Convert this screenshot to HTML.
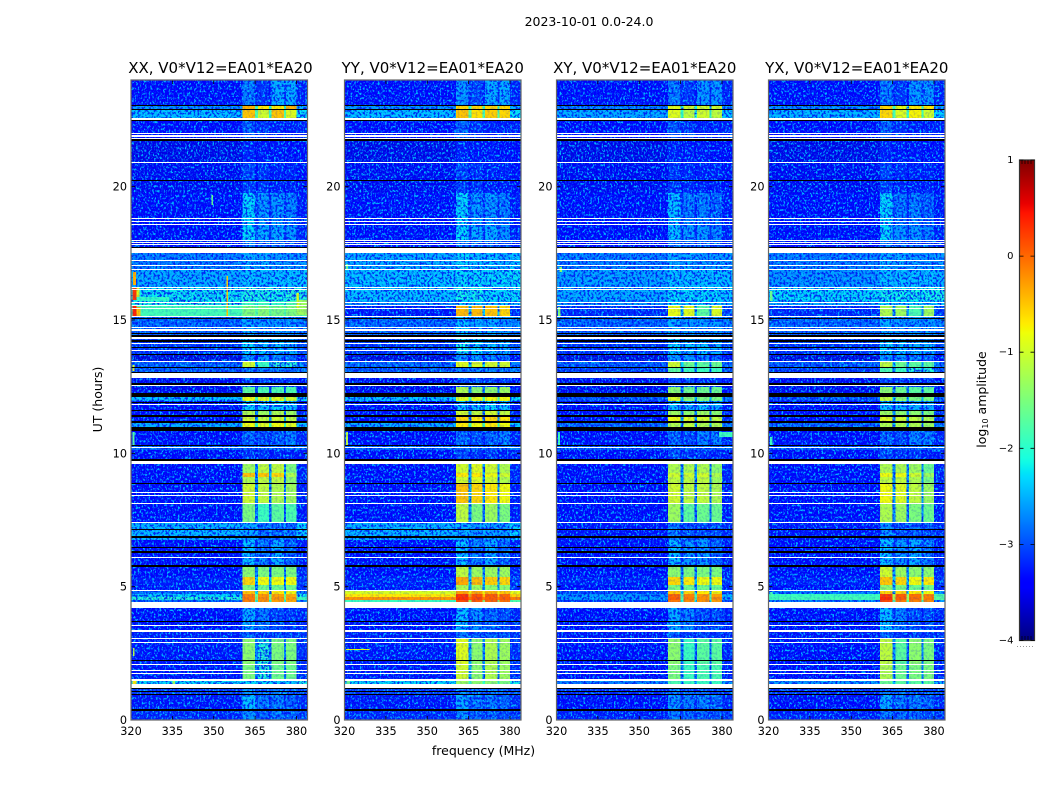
<!DOCTYPE html>
<html lang="en">
<head>
<meta charset="utf-8">
<title>2023-10-01 0.0-24.0</title>
<style>
html,body{margin:0;padding:0;background:#fff;width:1050px;height:800px;overflow:hidden}
svg{display:block}
text{font-family:"DejaVu Sans","Liberation Sans",sans-serif;fill:#000}
</style>
</head>
<body>
<svg id="fig" xmlns="http://www.w3.org/2000/svg" width="1050" height="800" viewBox="0 0 1050 800">
  <defs>
    <filter id="speckA" x="0" y="0" width="100%" height="100%" color-interpolation-filters="sRGB">
      <feTurbulence type="fractalNoise" baseFrequency="0.55 0.42" numOctaves="2" seed="3"/>
      <feColorMatrix type="matrix" values="0 0 0 0 0  0 0 0 0 0.72  0 0 0 0 1  5.5 0 0 0 -2.7"/>
    </filter>
    <filter id="speckB" x="0" y="0" width="100%" height="100%" color-interpolation-filters="sRGB">
      <feTurbulence type="fractalNoise" baseFrequency="0.55 0.42" numOctaves="2" seed="11"/>
      <feColorMatrix type="matrix" values="0 0 0 0 0  0 0 0 0 0.72  0 0 0 0 1  5.5 0 0 0 -2.7"/>
    </filter>
    <filter id="speckDark" x="0" y="0" width="100%" height="100%" color-interpolation-filters="sRGB">
      <feTurbulence type="fractalNoise" baseFrequency="0.5 0.4" numOctaves="2" seed="23"/>
      <feColorMatrix type="matrix" values="0 0 0 0 0  0 0 0 0 0.05  0 0 0 0 0.95  6 0 0 0 -2.9"/>
    </filter>
    <linearGradient id="jetGrad" x1="0" y1="1" x2="0" y2="0"></linearGradient>
  </defs>
  <text x="589" y="26" font-size="12.5" text-anchor="middle">2023-10-01 0.0-24.0</text>
  <text x="483.5" y="755" font-size="12.5" text-anchor="middle">frequency (MHz)</text>
  <text x="0" y="0" font-size="12.5" text-anchor="middle" transform="translate(102 399.5) rotate(-90)">UT (hours)</text>
  <text x="0" y="0" font-size="12.5" text-anchor="middle" transform="translate(986 399.5) rotate(-90)">log<tspan font-size="8" dy="2">10</tspan><tspan dy="-2"> amplitude</tspan></text>
  <g id="panels"></g>
  <g id="cbar"></g>
</svg>
<script>
// Axis ticks
const freqTicks = [320, 335, 350, 365, 380];
const hourTicks = [0, 5, 10, 15, 20];
const colorbarTicks = [-4, -3, -2, -1, 0, 1];
const panelTitles = ['XX, V0*V12=EA01*EA20', 'YY, V0*V12=EA01*EA20', 'XY, V0*V12=EA01*EA20', 'YX, V0*V12=EA01*EA20'];

// Frequency bands (MHz): background, sub-band 1, gap, 2, gap, 3, gap, 4, tail
const freqEdges = [320, 360.5, 365, 366, 370, 371, 375.5, 376.2, 380, 384];

// UT band edges (hours)
const hourEdges = [0, .34, .95, 1.35, 1.47, 2.1, 3.07, 3.3, 4.43, 4.5, 4.61, 4.72, 4.84, 5.06, 5.36, 5.74, 6.75, 7.43, 8.1, 8.85, 9.11, 9.26, 9.6, 10.14, 10.29, 10.85, 11.14, 11.37, 11.6, 11.96, 12.12, 12.5, 12.83, 13.2, 13.43, 13.69, 14.44, 15.1, 15.53, 15.71, 16.24, 16.91, 17.5, 18, 18.6, 19.76, 20.89, 21.75, 22.5, 22.86, 23.03, 24];

// log10 amplitude per UT band: [background, sub1, sub2, sub3, sub4]
const levelsXX = [
[-2.95,-2.5,-2.7,-2.6,-2.7],[-3.05,-2.3,-2.6,-2.6,-2.7],[-2.85,-2.5,-2.6,-2.6,-2.7],[-2.2,-2.2,-2.2,-2.2,-2.25],
[-3.05,-1.5,-2.0,-1.6,-1.6],[-3.05,-1.4,-2.0,-1.5,-1.5],[-3.0,-2.7,-2.9,-2.8,-2.9],[-3.1,-2.4,-2.6,-2.8,-2.9],
[-2.7,-.15,-.25,-.3,-.35],[-2.0,-.1,-.2,-.25,-.3],[-2.2,-.15,-.25,-.3,-.4],[-2.7,-.5,-.6,-.7,-.8],
[-3.05,-1.5,-1.6,-1.6,-1.6],[-3.0,-.6,-.8,-.8,-.8],[-3.1,-1.4,-1.5,-1.5,-1.5],[-3.15,-2.3,-2.6,-2.4,-2.7],
[-2.35,-2.45,-2.7,-2.7,-2.7],[-3.15,-1.5,-1.9,-1.7,-1.8],[-3.15,-1.0,-1.1,-1.2,-1.3],[-3.1,-1.2,-1.1,-1.1,-1.4],
[-3.1,-.5,-.5,-.6,-1.2],[-3.1,-1.3,-1.1,-1.1,-1.5],[-3.15,-2.9,-2.9,-3.0,-3.0],[-2.7,-2.7,-2.7,-2.7,-2.7],
[-3.1,-2.7,-2.8,-2.7,-2.6],[-2.4,-.8,-.9,-.8,-.9],[-3.1,-1.0,-1.1,-1.0,-1.1],[-3.1,-1.2,-1.3,-1.2,-1.3],
[-3.15,-2.2,-2.3,-2.2,-2.3],[-2.3,-.8,-.9,-.9,-1.0],[-3.2,-1.7,-1.8,-1.8,-1.8],[-3.2,-2.8,-2.8,-2.9,-2.9],
[-2.75,-2.6,-2.6,-2.6,-2.7],[-2.7,-1.0,-1.9,-2.0,-2.0],[-3.3,-2.5,-2.5,-2.6,-2.7],[-2.9,-2.2,-2.3,-2.3,-2.4],
[-2.7,-2.4,-2.5,-2.5,-2.5],[-1.85,-1.5,-1.45,-1.55,-1.5],[-2.05,-1.9,-1.9,-1.95,-1.8],[-2.15,-2.05,-2.05,-2.1,-2.0],
[-2.4,-2.3,-2.3,-2.3,-2.3],[-2.6,-2.4,-2.4,-2.5,-2.5],[-3.1,-2.6,-2.7,-2.7,-2.8],[-3.1,-2.2,-2.4,-2.4,-2.5],
[-3.15,-2.2,-2.5,-2.5,-2.6],[-3.2,-2.85,-2.9,-3.0,-3.0],[-3.25,-3.0,-3.05,-3.05,-3.1],[-3.1,-2.7,-2.9,-3.0,-3.0],
[-2.3,-.5,-1.0,-.5,-.9],[-2.5,-.4,-.7,-.7,-.4],[-3.1,-2.6,-2.9,-2.4,-2.4]];

const levelsYY = [
[-2.95,-2.5,-2.7,-2.7,-2.8],[-3.05,-2.4,-2.6,-2.6,-2.7],[-2.85,-2.5,-2.6,-2.6,-2.7],[-2.2,-1.3,-1.4,-1.4,-1.5],
[-3.05,-1.0,-1.4,-1.2,-1.3],[-3.05,-.9,-1.4,-1.2,-1.3],[-3.0,-2.6,-2.8,-2.7,-2.8],[-3.1,-2.3,-2.5,-2.7,-2.8],
[-1.9,.15,.05,0,-.05],[-.25,.3,.15,.05,.05],[-.7,.25,.1,.05,0],[-.95,-.3,-.35,-.4,-.5],
[-3.05,-1.2,-1.3,-1.4,-1.4],[-3.0,-.35,-.45,-.55,-.6],[-3.1,-1.1,-1.3,-1.3,-1.3],[-3.15,-2.3,-2.6,-2.4,-2.7],
[-2.35,-2.4,-2.5,-2.5,-2.5],[-3.15,-1.1,-1.5,-1.3,-1.5],[-3.15,-.5,-.6,-.7,-.8],[-3.1,-1.0,-.9,-1.0,-1.2],
[-3.1,-.7,-.7,-.8,-1.0],[-3.1,-1.0,-.9,-1.0,-1.2],[-3.15,-2.8,-2.9,-2.9,-3.0],[-2.7,-2.7,-2.7,-2.7,-2.7],
[-3.1,-2.7,-2.8,-2.7,-2.6],[-2.4,-.7,-.8,-.7,-.8],[-3.1,-.6,-.7,-.6,-.7],[-3.1,-1.0,-1.1,-1.0,-1.1],
[-3.15,-2.3,-2.3,-2.2,-2.3],[-2.3,-.9,-.85,-.8,-.8],[-3.2,-1.2,-1.4,-1.4,-1.3],[-3.2,-2.8,-2.8,-2.9,-2.9],
[-2.75,-2.6,-2.6,-2.6,-2.7],[-2.7,-.9,-.95,-1.0,-1.0],[-3.3,-2.5,-2.5,-2.6,-2.7],[-2.9,-2.1,-2.2,-2.3,-2.4],
[-2.7,-2.3,-2.4,-2.4,-2.5],[-3.05,-.45,-.45,-.5,-.6],[-2.5,-2.2,-2.3,-2.3,-2.3],[-2.3,-2.1,-2.1,-2.2,-2.2],
[-2.3,-2.2,-2.2,-2.2,-2.2],[-2.4,-2.2,-2.3,-2.3,-2.4],[-3.1,-2.6,-2.7,-2.7,-2.8],[-3.1,-2.2,-2.4,-2.4,-2.5],
[-3.15,-2.2,-2.5,-2.5,-2.6],[-3.2,-2.85,-2.9,-3.0,-3.0],[-3.25,-3.0,-3.05,-3.05,-3.1],[-3.1,-2.7,-2.9,-3.0,-3.0],
[-2.3,-.5,-.65,-.55,-.6],[-2.5,-.6,-.6,-.6,-.6],[-3.1,-2.5,-2.8,-2.4,-2.4]];

const levelsXY = [
[-3.0,-2.6,-2.7,-2.7,-2.8],[-3.1,-2.5,-2.6,-2.6,-2.7],[-2.9,-2.6,-2.7,-2.7,-2.8],[-2.6,-1.8,-1.9,-1.9,-1.9],
[-3.1,-1.5,-1.9,-1.8,-1.8],[-3.1,-1.4,-1.9,-1.7,-1.7],[-3.05,-2.7,-2.9,-2.8,-2.9],[-3.1,-2.4,-2.6,-2.8,-2.8],
[-2.9,-.1,-.2,-.25,-.3],[-2.5,.05,-.1,-.2,-.2],[-2.5,0,-.15,-.25,-.3],[-2.85,-.5,-.6,-.7,-.75],
[-3.1,-1.5,-1.6,-1.6,-1.6],[-3.0,-.6,-.7,-.8,-.8],[-3.1,-1.4,-1.5,-1.5,-1.5],[-3.15,-2.3,-2.5,-2.5,-2.7],
[-3.05,-2.6,-2.8,-2.8,-2.8],[-3.15,-1.3,-1.7,-1.6,-1.6],[-3.15,-1.0,-1.1,-1.1,-1.2],[-3.1,-1.1,-1.1,-1.1,-1.3],
[-3.1,-1.0,-1.0,-1.0,-1.2],[-3.1,-1.2,-1.2,-1.2,-1.4],[-3.15,-2.8,-2.9,-2.9,-3.0],[-2.75,-2.7,-2.7,-2.7,-2.7],
[-3.1,-2.7,-2.8,-2.6,-2.6],[-2.7,-1.2,-1.1,-1.2,-1.2],[-3.1,-.85,-.9,-1.0,-1.1],[-3.1,-1.3,-1.4,-1.3,-1.4],
[-3.15,-2.3,-2.4,-2.3,-2.4],[-2.75,-.95,-1.4,-1.5,-1.5],[-3.2,-1.4,-1.6,-1.6,-1.6],[-3.2,-2.8,-2.8,-2.9,-2.9],
[-2.85,-1.7,-1.9,-1.9,-1.9],[-2.75,-1.0,-1.6,-1.7,-1.6],[-3.3,-2.5,-2.5,-2.6,-2.7],[-2.9,-2.2,-2.3,-2.3,-2.4],
[-2.7,-2.4,-2.5,-2.5,-2.5],[-2.95,-.85,-.9,-1.7,-.95],[-2.5,-2.2,-2.3,-2.2,-2.3],[-2.4,-2.2,-2.2,-2.2,-2.2],
[-2.45,-2.3,-2.3,-2.3,-2.3],[-2.6,-2.4,-2.4,-2.5,-2.5],[-3.1,-2.6,-2.7,-2.7,-2.8],[-3.1,-2.3,-2.5,-2.5,-2.6],
[-3.15,-2.3,-2.6,-2.6,-2.7],[-3.2,-2.9,-2.95,-3.0,-3.0],[-3.25,-3.0,-3.05,-3.05,-3.1],[-3.1,-2.75,-2.9,-3.0,-3.0],
[-2.4,-.9,-1.1,-1.0,-1.1],[-2.6,-.9,-1.0,-1.0,-1.0],[-3.1,-2.6,-2.9,-2.5,-2.5]];

const levelsYX = [
[-3.0,-2.6,-2.7,-2.7,-2.8],[-3.1,-2.4,-2.6,-2.6,-2.7],[-2.9,-2.6,-2.7,-2.7,-2.8],[-2.5,-1.6,-1.7,-1.7,-1.7],
[-3.1,-1.2,-1.6,-1.5,-1.5],[-3.1,-1.1,-1.7,-1.4,-1.5],[-3.05,-2.7,-2.9,-2.8,-2.9],[-3.1,-2.3,-2.6,-2.8,-2.8],
[-2.6,.15,-.1,-.15,-.2],[-1.85,.3,.05,-.05,-.1],[-1.9,.2,.05,-.05,-.15],[-2.6,-.6,-.6,-.7,-.8],
[-3.1,-1.4,-1.5,-1.6,-1.6],[-3.0,-.5,-.6,-.8,-.7],[-3.1,-1.0,-1.3,-1.4,-1.4],[-3.15,-2.3,-2.5,-2.4,-2.6],
[-3.05,-2.5,-2.8,-2.7,-2.8],[-3.15,-1.2,-1.3,-1.5,-1.6],[-3.15,-.8,-.9,-1.1,-1.3],[-3.1,-1.1,-1.1,-1.2,-1.5],
[-3.1,-.8,-.8,-1.0,-1.3],[-3.1,-1.2,-1.2,-1.3,-1.6],[-3.15,-2.8,-2.9,-2.9,-3.0],[-2.75,-2.7,-2.7,-2.7,-2.7],
[-3.1,-2.7,-2.8,-2.6,-2.6],[-2.7,-1.2,-1.2,-1.2,-1.3],[-3.1,-.9,-1.0,-1.1,-1.2],[-3.1,-1.3,-1.4,-1.4,-1.5],
[-3.15,-2.3,-2.4,-2.4,-2.4],[-2.75,-1.1,-1.4,-1.5,-1.5],[-3.2,-1.4,-1.6,-1.7,-1.7],[-3.2,-2.8,-2.8,-2.9,-2.9],
[-2.85,-1.8,-1.9,-2.0,-2.0],[-2.75,-1.1,-1.6,-1.7,-1.7],[-3.3,-2.5,-2.5,-2.6,-2.7],[-2.9,-2.2,-2.3,-2.4,-2.4],
[-2.7,-2.4,-2.5,-2.5,-2.5],[-2.95,-1.2,-1.3,-1.8,-1.3],[-2.4,-2.2,-2.3,-2.2,-2.3],[-2.2,-2.1,-2.1,-2.1,-2.1],
[-2.5,-2.3,-2.3,-2.3,-2.3],[-2.6,-2.4,-2.4,-2.5,-2.5],[-3.1,-2.6,-2.7,-2.7,-2.8],[-3.1,-2.2,-2.5,-2.5,-2.6],
[-3.15,-2.2,-2.6,-2.6,-2.7],[-3.2,-2.85,-2.95,-3.0,-3.0],[-3.25,-3.0,-3.05,-3.05,-3.1],[-3.1,-2.7,-2.9,-3.0,-3.0],
[-2.35,-.6,-.9,-.75,-1.0],[-2.55,-.6,-.85,-.7,-.7],[-3.1,-2.6,-2.9,-2.5,-2.5]];

// Narrow-band features: [f0, f1, h0, h1, log10 amplitude]
const spikesXX = [
[320.6,322,15.15,15.55,.35],[322,323.5,15.15,15.5,-.5],[320.6,322,15.75,16.2,.25],[322,323,15.8,16.2,-.9],[320.8,321.8,16.3,16.8,-.4],
[354.6,355.2,15.15,16.65,-.5],[322,334,15.72,15.86,-1.95],[380,384,15.2,15.75,-1.3],[380,381,15.4,16,-.9],
[320.6,321.2,13.1,13.3,-.9],[320.6,321.3,10.3,10.8,-1.7],[349.2,349.7,19.3,19.7,-1.6],[320.7,321.3,2.4,2.7,-1.2],[335,336,1.36,1.45,-1.3],[320.5,322,1.36,1.45,-.7]];
const spikesYY = [[320.6,321.3,10.3,10.8,-1.1],[320.5,329,2.61,2.66,-.8],[320.5,321.3,16.9,17.1,-1.6],[320.8,322,1.36,1.45,-1.6]];
const spikesXY = [[320.6,321.3,10.3,10.8,-1.9],[321,322,16.8,17,-1.4],[320.5,321.5,15.15,15.5,-1.5],[379,384,10.6,10.8,-1.9]];
const spikesYX = [[320.5,321.5,15.7,16.1,-1.6],[320.5,321.5,4.6,4.8,-1.8],[320.5,321.5,10.3,10.6,-1.9]];

// Flagged (no data) time ranges, hours
const whiteRows = [[1.19,1.35],[1.47,1.54],[1.74,1.78],[1.84,1.87],[2.07,2.11],[2.91,2.94],[3.02,3.06],[3.3,3.38],[3.53,3.56],[4.21,4.42],[4.83,4.86],[6.08,6.11],[7.4,7.44],[8.1,8.14],[8.4,8.44],[8.51,8.55],[9.6,9.71],[10.2,10.24],[11.8,11.85],[12.53,12.56],[12.83,13.0],[13.41,13.46],[13.85,13.89],[14.1,14.13],[14.3,14.35],[14.57,14.65],[14.7,14.74],[15.1,15.15],[15.4,15.44],[15.52,15.56],[15.64,15.68],[16.13,16.16],[16.2,16.24],[16.88,16.92],[17.02,17.06],[17.2,17.24],[17.51,17.74],[17.81,17.85],[17.89,17.93],[17.96,18],[18.56,18.6],[18.68,18.71],[18.79,18.83],[20.87,20.91],[21.78,21.81],[21.88,21.92],[21.98,22.01],[22.5,22.59]];
const blackRows = [[.35,.4],[.95,.99],[1.05,1.08],[1.16,1.19],[2.21,2.25],[3.66,3.7],[5.73,5.82],[6.28,6.32],[6.45,6.49],[6.84,6.9],[7.13,7.16],[8.85,8.89],[9.73,9.77],[10.28,10.31],[10.85,11.0],[11.14,11.21],[11.37,11.44],[11.59,11.63],[11.91,11.94],[12.12,12.25],[12.58,12.62],[13.0,13.06],[13.19,13.23],[13.69,13.74],[13.95,13.99],[14.18,14.25],[14.36,14.44],[14.48,14.51],[15.04,15.08],[17.72,17.75],[20.22,20.25],[21.73,21.77],[22.48,22.5],[22.86,22.9],[23.03,23.06]];

const allLevels = [levelsXX, levelsYY, levelsXY, levelsYX];
const allSpikes = [spikesXX, spikesYY, spikesXY, spikesYX];

const NS = 'http://www.w3.org/2000/svg';
const panelLeft = [131, 344.5, 556.5, 768.5];
const panelWidth = 176.5, panelTop = 80, panelBottom = 720;
const FMIN = 320, FMAX = 384, HMIN = 0, HMAX = 24, VMIN = -4, VMAX = 1;

function xScale(f, left) { return left + (f - FMIN) / (FMAX - FMIN) * panelWidth; }
function yScale(h) { return panelBottom - (h - HMIN) / (HMAX - HMIN) * (panelBottom - panelTop); }

function jet(v) {
  const t = Math.max(0, Math.min(1, (v - VMIN) / (VMAX - VMIN)));
  const ramp = (x, a, b) => Math.max(0, Math.min(1, (x - a) / (b - a)));
  const r = t < .66 ? ramp(t, .35, .66) : (t < .89 ? 1 : 1 - ramp(t, .89, 1) * .5);
  const g = t < .375 ? ramp(t, .125, .375) : (t < .64 ? 1 : 1 - ramp(t, .64, .91));
  const b = t < .11 ? .5 + t / .11 * .5 : (t < .34 ? 1 : 1 - ramp(t, .34, .65));
  return 'rgb(' + Math.round(r * 255) + ',' + Math.round(g * 255) + ',' + Math.round(b * 255) + ')';
}

// Quiet cells sit under a light speckle layer, so their base colour is drawn deeper
function baseColour(v) {
  return jet(v < -2 ? v - (-2 - v) * .26 : v);
}

function mk(tag, attrs, parent) {
  const el = document.createElementNS(NS, tag);
  for (const k in attrs) el.setAttribute(k, attrs[k]);
  parent.appendChild(el);
  return el;
}

// Which level applies to each frequency column
function cellValue(row, col) {
  const bg = row[0];
  if (col === 0) return bg;
  if (col === 1) return row[1];
  if (col === 3) return row[2];
  if (col === 5) return row[3];
  if (col === 7) return row[4];
  if (col === 8) return bg + .12;
  const neighbour = col === 2 ? row[1] : (col === 4 ? row[2] : row[3]);
  return bg + (neighbour - bg) * .3;
}

const panelsG = document.getElementById('panels');

panelTitles.forEach(function (title, p) {
  const left = panelLeft[p];
  const g = mk('g', {}, panelsG);
  
  

  const cool = mk('g', { 'shape-rendering': 'crispEdges' }, g);
  
  

  const noise = mk('rect', { x: left, y: panelTop, width: panelWidth, height: panelBottom - panelTop, filter: p % 2 ? 'url(#speckB)' : 'url(#speckA)' }, g);
  
  

  const noiseDark = mk('rect', { x: left, y: panelTop, width: panelWidth, height: panelBottom - panelTop, filter: 'url(#speckDark)', opacity: .8 }, g);
  
  

  const hot = mk('g', { 'shape-rendering': 'crispEdges' }, g);
  
  

  const levels = allLevels[p];
  levels.forEach(function (row, r) {
    const y0 = Math.round(yScale(hourEdges[r + 1])), y1 = Math.round(yScale(hourEdges[r]));
    for (let c = 0; c < freqEdges.length - 1; c++) {
      const v = cellValue(row, c);
      const x0 = xScale(freqEdges[c], left), x1 = xScale(freqEdges[c + 1], left);
      const cell = mk('rect', { x: x0, y: y0, width: x1 - x0, height: y1 - y0, fill: baseColour(v) }, v > -2.0 ? hot : cool);
      
      
    }
  });

  allSpikes[p].forEach(function (s) {
    const x0 = xScale(s[0], left), x1 = xScale(s[1], left);
    const y0 = Math.round(yScale(s[3])), y1 = Math.round(yScale(s[2]));
    const spike = mk('rect', { x: x0, y: y0, width: x1 - x0, height: Math.max(1, y1 - y0), fill: jet(s[4]) }, hot);
    
    
  });

  const noiseTop = mk('rect', { x: left, y: panelTop, width: panelWidth, height: panelBottom - panelTop, filter: 'url(#speckDark)', opacity: .16 }, g);
  
  

  whiteRows.forEach(function (b) {
    const y0 = Math.round(yScale(b[1])), y1 = Math.round(yScale(b[0]));
    const rowEl = mk('rect', { x: left, y: y0, width: panelWidth, height: Math.max(1, y1 - y0), fill: '#fff', 'shape-rendering': 'crispEdges' }, g);
    
    
  });
  blackRows.forEach(function (b) {
    const y0 = Math.round(yScale(b[1])), y1 = Math.round(yScale(b[0]));
    const rowEl = mk('rect', { x: left, y: y0, width: panelWidth, height: Math.max(1, y1 - y0), fill: '#000', 'shape-rendering': 'crispEdges' }, g);
    
    
  });

  freqTicks.forEach(function (f) {
    const x = xScale(f, left);
    const tb = mk('path', { d: 'M' + x + ' ' + panelBottom + 'v-4M' + x + ' ' + panelTop + 'v4', stroke: '#000', 'stroke-width': .8, fill: 'none' }, g);
    
    
    const lab = mk('text', { x: x, y: 735, 'font-size': 11.25, 'text-anchor': 'middle' }, g);
    lab.textContent = f;
    
    
  });
  hourTicks.forEach(function (h) {
    const y = yScale(h);
    const tl = mk('path', { d: 'M' + left + ' ' + y + 'h4M' + (left + panelWidth) + ' ' + y + 'h-4', stroke: '#000', 'stroke-width': .8, fill: 'none' }, g);
    
    
    const lab = mk('text', { x: left - 4, y: y + 4, 'font-size': 11.25, 'text-anchor': 'end' }, g);
    lab.textContent = h;
    
    
  });

  const frame = mk('rect', { x: left, y: panelTop, width: panelWidth, height: panelBottom - panelTop, fill: 'none', stroke: '#666', 'stroke-width': 1.2 }, g);
  
  

  const ttl = mk('text', { x: left + panelWidth / 2 + (p === 0 ? 1.2 : 0), y: 73, 'font-size': 15, 'text-anchor': 'middle' }, g);
  ttl.textContent = title;
  
  
});

// Colorbar
const cbG = document.getElementById('cbar');
const grad = document.getElementById('jetGrad');
for (let i = 0; i <= 100; i++) {
  mk('stop', { offset: (i / 100), 'stop-color': jet(VMIN + (VMAX - VMIN) * i / 100) }, grad);
}
const cbX = 1019.5, cbW = 15, cbTop = 160, cbBottom = 640.5;
function cbY(v) { return cbBottom - (v - VMIN) / (VMAX - VMIN) * (cbBottom - cbTop); }
const bar = mk('rect', { x: cbX, y: cbTop, width: cbW, height: cbBottom - cbTop, fill: 'url(#jetGrad)', stroke: '#333', 'stroke-width': 1.2 }, cbG);


colorbarTicks.forEach(function (v) {
  const y = cbY(v);
  const t = mk('path', { d: 'M' + cbX + ' ' + y + 'h4M' + (cbX + cbW) + ' ' + y + 'h-4', stroke: '#000', 'stroke-width': .8, fill: 'none' }, cbG);
  
  
  const lab = mk('text', { x: 1013.5, y: y + 3, 'font-size': 10, 'text-anchor': 'end' }, cbG);
  lab.textContent = (v < 0 ? '\u2212' + (-v) : String(v));
  
  
});
const endTicks = mk('path', { d: 'M1022 160v4M1025 160v4M1028 160v4M1031 160v4M1022 640v-4M1025 640v-4M1028 640v-4M1031 640v-4', stroke: '#000', 'stroke-width': .7, fill: 'none' }, cbG);


const dots = mk('path', { d: 'M1017 646.5H1035', stroke: '#999', 'stroke-width': 1, 'stroke-dasharray': '1 2', fill: 'none' }, cbG);


</script>
</body>
</html>
